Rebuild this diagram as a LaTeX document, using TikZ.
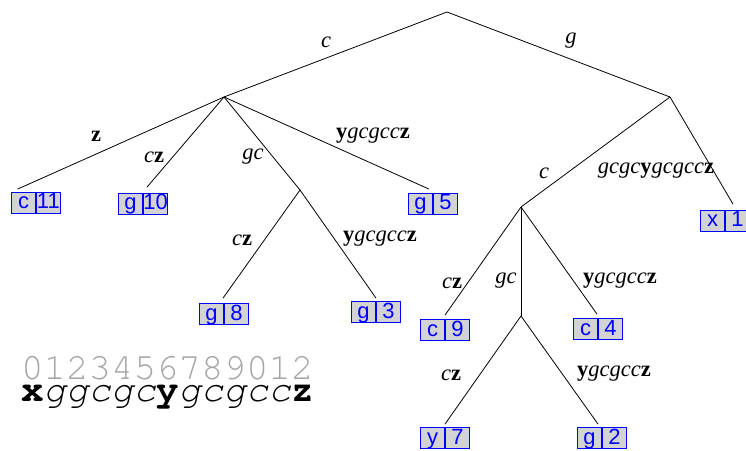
\documentclass[tikz,border=0pt]{standalone}
\usepackage{fontspec}
\setmainfont{Liberation Serif}
\newfontfamily\boxfont{Liberation Sans}
\newfontfamily\codefont{TeX Gyre Cursor}
\definecolor{cellgray}{RGB}{211,211,211}
\definecolor{cellblue}{RGB}{0,0,255}
\definecolor{digitgray}{RGB}{165,165,165}
\tikzset{
  edge/.style={draw=black, line width=0.8pt},
  cell/.style={draw=cellblue, fill=cellgray, text=cellblue, line width=0.8pt,
    minimum width=24pt, minimum height=21pt, inner sep=0pt,
    text height=15pt, text depth=3pt,
    font=\boxfont\fontsize{22pt}{22pt}\selectfont},
  lab/.style={font=\fontsize{22.5pt}{22.5pt}\selectfont, inner sep=0pt},
}
\newcommand{\leafbox}[5]{%
  \node[cell, anchor=east] (#1a) at (#2,#3) {#4};
  \node[cell, anchor=west] (#1) at (#2,#3) {#5};
}
\begin{document}
\begin{tikzpicture}[x=1pt,y=1pt]
\useasboundingbox (0,0) rectangle (746,450);
% internal nodes
\coordinate (R) at (447,438);
\coordinate (A) at (224,353);
\coordinate (B) at (670,353);
\coordinate (C) at (300,260);
\coordinate (D) at (521,243);
\coordinate (E) at (521,134);
% leaves
\leafbox{c11}{36}{247}{c}{11}
\leafbox{g10}{143}{246}{g}{10}
\leafbox{g5}{433}{246}{g}{5}
\leafbox{g8}{224}{136}{g}{8}
\leafbox{g3}{376}{138}{g}{3}
\leafbox{x1}{725}{229}{x}{1}
\leafbox{c9}{445}{120}{c}{9}
\leafbox{c4}{598}{121}{c}{4}
\leafbox{y7}{445}{12}{y}{7}
\leafbox{g2}{602}{12}{g}{2}
% edges
\draw[edge] (R) -- (A);
\draw[edge] (R) -- (B);
\draw[edge] (A) -- ([xshift=-6pt,yshift=3pt]c11a.north);
\draw[edge] (A) -- ([xshift=4pt,yshift=6pt]g10a.north east);
\draw[edge] (A) -- (C);
\draw[edge] (A) -- ([xshift=-4pt,yshift=4pt]g5a.north east);
\draw[edge] (C) -- ([xshift=-1pt,yshift=5pt]g8a.north east);
\draw[edge] (C) -- ([yshift=3pt]g3a.north east);
\draw[edge] (B) -- (D);
\draw[edge] (B) -- ([xshift=8pt,yshift=6pt]x1.north west);
\draw[edge] (D) -- ([yshift=4pt]c9a.north east);
\draw[edge] (D) -- (E);
\draw[edge] (D) -- ([xshift=-1pt,yshift=4pt]c4a.north east);
\draw[edge] (E) -- ([yshift=3pt]y7a.north east);
\draw[edge] (E) -- ([xshift=-4pt,yshift=3pt]g2a.north east);
% labels
\node[lab] (l1) at (326,408) {\itshape c};
\node[lab] (l2) at (571,409) {\itshape g};
\node[lab] (l3) at (96,314) {\bfseries z};
\node[lab] (l4) at (154,293) {\itshape c\bfseries\upshape z};
\node[lab] (l5) at (253,293) {\itshape gc};
\node[lab] (l6) at (373,314) {\bfseries y\mdseries\itshape gcgcc\upshape\bfseries z};
\node[lab] (l7) at (242,210) {\itshape c\bfseries\upshape z};
\node[lab] (l8) at (380,211) {\bfseries y\mdseries\itshape gcgcc\upshape\bfseries z};
\node[lab] (l9) at (544,277) {\itshape c};
\node[lab] (l10) at (656,279) {\itshape gcgc\upshape\bfseries y\mdseries\itshape gcgcc\upshape\bfseries z};
\node[lab] (l11) at (452,167) {\itshape c\bfseries\upshape z};
\node[lab] (l12) at (506,169) {\itshape gc};
\node[lab] (l13) at (620,169) {\bfseries y\mdseries\itshape gcgcc\upshape\bfseries z};
\node[lab] (l14) at (451,75) {\itshape c\bfseries\upshape z};
\node[lab] (l15) at (614,76) {\bfseries y\mdseries\itshape gcgcc\upshape\bfseries z};
% string
\node[anchor=west, inner sep=0pt, text=digitgray, font=\codefont\fontsize{37.5pt}{37.5pt}\selectfont] (digits) at (21,82) {0123456789012};
\node[anchor=west, inner sep=0pt, font=\codefont\fontsize{37.5pt}{37.5pt}\selectfont] (str) at (21,53) {\bfseries x\mdseries\itshape ggcgc\upshape\bfseries y\mdseries\itshape gcgcc\upshape\bfseries z};
\end{tikzpicture}
\end{document}
